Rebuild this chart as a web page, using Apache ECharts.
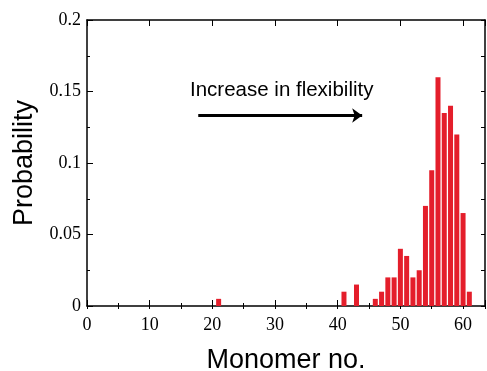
<!DOCTYPE html>
<html>
<head>
<meta charset="utf-8">
<script src="https://cdn.jsdelivr.net/npm/echarts@6/dist/echarts.min.js"></script>
<style>
  html, body { margin: 0; padding: 0; background: #fff; }
  #chart { width: 487px; height: 371px; }
</style>
</head>
<body>
<div id="chart"></div>
<script>
// monomer number and probability
const monomers = [21, 41, 43, 46, 47, 48, 49, 50, 51, 52, 53, 54, 55, 56, 57, 58, 59, 60, 61]
const probs = [0.005, 0.01, 0.015, 0.005, 0.01, 0.02, 0.02, 0.04, 0.035, 0.02, 0.025, 0.07, 0.095, 0.16, 0.135, 0.14, 0.12, 0.065, 0.01]
const xTicks = [0, 10, 20, 30, 40, 50, 60]
const yTicks = [0, 0.05, 0.1, 0.15, 0.2]

const chart = echarts.init(document.getElementById("chart"))

const serif = "Liberation Serif"
const sans = "Liberation Sans"
const X_MAX = 63.5

const frameLine = { show: true, onZero: false, lineStyle: { color: "#000", width: 1.5 } }
const noLine = { show: false }

// x axes: major ticks every 10, a second overlay for the minor ticks every 5
function xAxisPart(pos, step, len, withLabels) {
  const ax = {
    type: "value",
    position: pos,
    min: 0,
    max: X_MAX,
    interval: step,
    axisLine: step === 10 ? frameLine : noLine,
    axisTick: { show: true, inside: true, length: len, lineStyle: { color: "#000" } },
    splitLine: { show: false },
    axisLabel: { show: false }
  }
  if (withLabels) {
    ax.name = "Monomer no."
    ax.nameLocation = "middle"
    ax.nameGap = 41
    ax.nameTextStyle = { fontFamily: sans, fontSize: 27, color: "#000" }
    ax.axisLabel = {
      fontFamily: serif,
      fontSize: 18,
      color: "#000",
      margin: 10,
      formatter: v => (xTicks.includes(v) ? String(v) : "")
    }
  }
  return ax
}

const option = {
  animation: false,
  grid: { left: 87, right: 2, top: 20, bottom: 65, outerBoundsMode: "none", containLabel: false },
  xAxis: [
    xAxisPart("bottom", 10, 6, true),
    xAxisPart("bottom", 5, 3, false),
    xAxisPart("top", 10, 6, false),
    xAxisPart("top", 5, 3, false)
  ],
  yAxis: [
    {
      type: "value",
      min: 0,
      max: 0.2,
      interval: 0.05,
      name: "Probability",
      nameLocation: "middle",
      nameGap: 49,
      nameTextStyle: { fontFamily: sans, fontSize: 27, color: "#000" },
      axisLine: frameLine,
      axisTick: { show: true, inside: true, length: 6, lineStyle: { color: "#000" } },
      minorTick: { show: true, splitNumber: 2, length: 3, lineStyle: { color: "#000" } },
      splitLine: { show: false },
      axisLabel: {
        fontFamily: serif,
        fontSize: 18,
        color: "#000",
        margin: 6,
        formatter: v => {
          const t = yTicks.find(k => Math.abs(k - v) < 1e-9)
          return t === undefined ? "" : String(t)
        }
      }
    },
    {
      type: "value",
      position: "right",
      min: 0,
      max: 0.2,
      interval: 0.025,
      axisLine: frameLine,
      axisTick: { show: true, inside: true, length: 4, lineStyle: { color: "#000" } },
      splitLine: { show: false },
      axisLabel: { show: false }
    }
  ],
  series: [
    {
      type: "bar",
      barWidth: 5,
      itemStyle: { color: "#e41e2b" },
      data: monomers.map((m, i) => [m, probs[i]]),
      markLine: {
        silent: true,
        symbol: ["none", "arrow"],
        symbolSize: [11, 10],
        label: { show: false },
        lineStyle: { color: "#000", width: 3, type: "solid" },
        data: [[{ coord: [17.75, 0.1332] }, { coord: [43.9, 0.1332] }]]
      }
    }
  ],
  graphic: [
    {
      type: "text",
      left: 190,
      top: 80,
      style: {
        text: "Increase in flexibility",
        font: "20.5px Liberation Sans",
        fill: "#000"
      }
    }
  ]
}

chart.setOption(option)
</script>
</body>
</html>
